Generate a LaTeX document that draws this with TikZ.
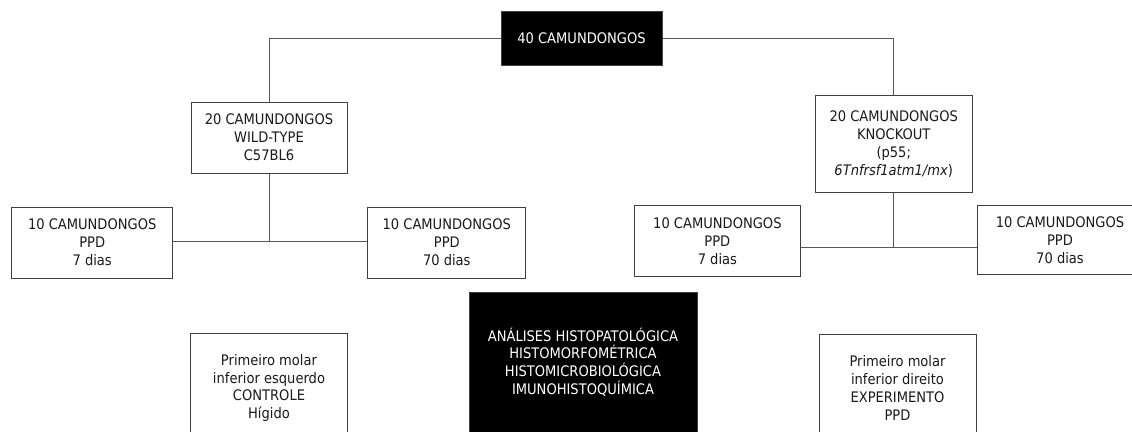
\documentclass[tikz,border=0pt]{standalone}
\usepackage{fontspec}
\setmainfont{DejaVu Sans Condensed}
\usepackage{tikz}
\definecolor{boxgray}{HTML}{404040}
\definecolor{linegray}{HTML}{595959}
\definecolor{textgray}{HTML}{1A1A1A}
\tikzset{
    groupbox/.style={draw=boxgray, line width=0.75pt, fill=white, text=textgray, align=center,
        inner sep=0pt, font=\fontsize{10.9}{13.4}\selectfont},
    darkbox/.style={groupbox, fill=black, text=white},
    groupedge/.style={line width=0.7pt, draw=linegray}
}
\usetikzlibrary{calc}

\begin{document}
\begin{tikzpicture}[x=0.75pt, y=-0.75pt]
    \useasboundingbox (0,0) rectangle (1132,432);
    \clip (0,0) rectangle (1132,432);
    % mice
    \node[darkbox, minimum width=120.75pt, minimum height=40.5pt] (total) at (581.5,38) {40 CAMUNDONGOS};
    \node[groupbox, minimum width=117pt, minimum height=53.25pt] (wt) at (269,137.5) {20 CAMUNDONGOS\\WILD-TYPE\\C57BL6};
    \node[groupbox, minimum width=117.4pt, minimum height=72.75pt] (ko) at (893.75,144.2) {20 CAMUNDONGOS\\KNOCKOUT\\(p55;\\\textit{6Tnfrsf1atm1/mx})};
    \node[groupbox, minimum width=121.1pt, minimum height=53.25pt] (wtseven) at (92.2,242.5) {10 CAMUNDONGOS\\PPD\\7 dias};
    \node[groupbox, minimum width=118.5pt, minimum height=53.25pt] (wtseventy) at (446.8,242.5) {10 CAMUNDONGOS\\PPD\\70 dias};
    \node[groupbox, minimum width=124.5pt, minimum height=53.25pt] (koseven) at (717.4,241) {10 CAMUNDONGOS\\PPD\\7 dias};
    \node[groupbox, minimum width=124.5pt, minimum height=51.75pt] (koseventy) at (1060,240) {10 CAMUNDONGOS\\PPD\\70 dias};
    % teeth and analyses
    \node[groupbox, minimum width=117.5pt, minimum height=81.5pt] (ctrl) at (269,388) {Primeiro molar\\inferior esquerdo\\CONTROLE\\Hígido};
    \node[darkbox, minimum width=171pt, minimum height=105pt] (anal) at (583,362) {ANÁLISES HISTOPATOLÓGICA\\HISTOMORFOMÉTRICA\\HISTOMICROBIOLÓGICA\\IMUNOHISTOQUÍMICA};
    \node[groupbox, minimum width=117.75pt, minimum height=81pt] (exper) at (897.5,388) {Primeiro molar\\inferior direito\\EXPERIMENTO\\PPD};
    \coordinate (wtjoin) at (269,241);
    \coordinate (kojoin) at (893.75,247.7);
    \draw[groupedge] (total.west) -| (wt.north);
    \draw[groupedge] (total.east) -| (ko.north);
    \draw[groupedge] (wt.south) -- (wtjoin);
    \draw[groupedge] (wtseven.east |- wtjoin) -- (wtseventy.west |- wtjoin);
    \draw[groupedge] (ko.south) -- (kojoin);
    \draw[groupedge] (koseven.east |- kojoin) -- (koseventy.west |- kojoin);
\end{tikzpicture}
\end{document}
